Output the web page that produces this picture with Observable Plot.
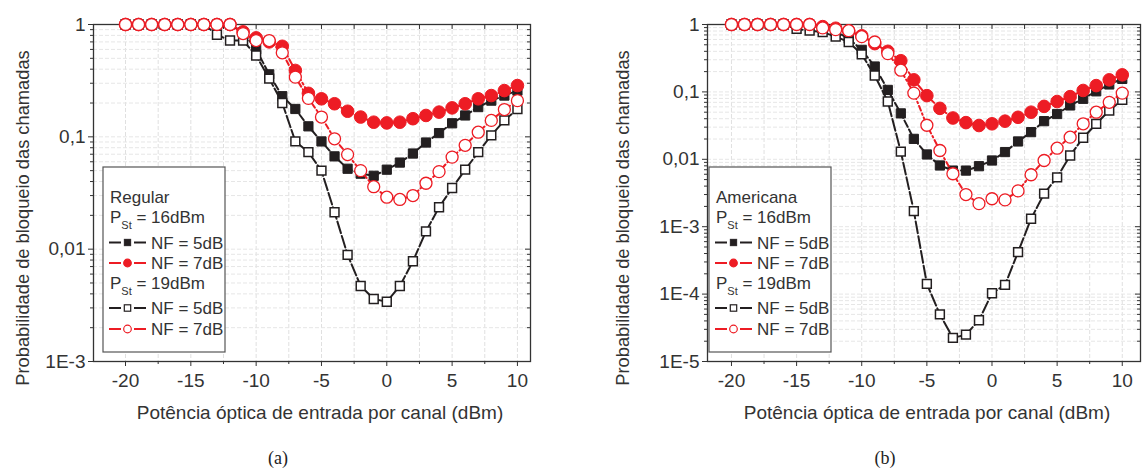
<!DOCTYPE html>
<html><head><meta charset="utf-8">
<script src="https://cdn.jsdelivr.net/npm/d3@7"></script>
<script src="https://cdn.jsdelivr.net/npm/@observablehq/plot@0.6"></script>
<style>
html,body{margin:0;padding:0;background:#fff;}
#wrap{position:relative;width:1145px;height:470px;overflow:hidden;font-family:"Liberation Sans",Arial,sans-serif;}
#pa,#pb{position:absolute;top:0;}
#pa{left:0px;} #pb{left:600px;}
#overlay{position:absolute;left:0;top:0;}
</style></head><body>
<div id="wrap"><div id="pa"></div><div id="pb"></div><svg id="overlay" width="1145" height="470"></svg></div>
<script>
// ---------- data ----------
const power = [-20,-19,-18,-17,-16,-15,-14,-13,-12,-11,-10,-9,-8,-7,-6,-5,-4,-3,-2,-1,0,1,2,3,4,5,6,7,8,9,10];

// (a) Regular
const regular_16_nf5 = [1,1,1,1,1,1,1,1,1,0.85,0.60,0.36,0.23,0.177,0.124,0.091,0.067,0.052,0.047,0.045,0.051,0.059,0.071,0.089,0.108,0.132,0.155,0.184,0.21,0.233,0.258];
const regular_16_nf7 = [1,1,1,1,1,1,1,1,1,0.86,0.76,0.70,0.64,0.39,0.244,0.218,0.197,0.169,0.150,0.135,0.133,0.135,0.145,0.155,0.166,0.181,0.197,0.218,0.233,0.258,0.286];
const regular_19_nf5 = [1,1,1,1,1,1,1,0.81,0.72,0.72,0.53,0.33,0.20,0.091,0.073,0.050,0.0213,0.0089,0.0047,0.0036,0.0034,0.0047,0.0078,0.0144,0.0236,0.035,0.051,0.073,0.103,0.14,0.177];
const regular_19_nf7 = [1,1,1,1,1,1,1,1,1,0.83,0.72,0.72,0.56,0.34,0.22,0.15,0.096,0.0695,0.050,0.036,0.029,0.0277,0.030,0.0386,0.049,0.066,0.084,0.11,0.14,0.175,0.21];

// (b) Americana
const americana_16_nf5 = [1,1,1,1,1,1,1,0.88,0.78,0.62,0.42,0.238,0.107,0.048,0.0201,0.0118,0.0081,0.0068,0.0068,0.0079,0.0096,0.0128,0.0184,0.0253,0.0368,0.047,0.063,0.079,0.102,0.129,0.156];
const americana_16_nf7 = [1,1,1,1,1,1,1,0.93,0.88,0.80,0.68,0.52,0.40,0.29,0.151,0.088,0.057,0.041,0.035,0.0317,0.0336,0.0368,0.042,0.050,0.061,0.072,0.085,0.105,0.124,0.151,0.179];
const americana_19_nf5 = [1,1,1,1,1,0.86,0.81,0.77,0.66,0.55,0.36,0.175,0.072,0.013,0.0017,1.42e-4,5e-5,2.24e-5,2.5e-5,4.1e-5,1.03e-4,1.37e-4,4.2e-4,1.31e-3,3.1e-3,5.4e-3,0.0114,0.0209,0.0336,0.053,0.076];
const americana_19_nf7 = [1,1,1,1,1,1,1,0.89,0.84,0.81,0.66,0.55,0.37,0.21,0.096,0.032,0.0135,0.0061,0.0030,0.0022,0.0026,0.0025,0.0034,0.0059,0.0096,0.0146,0.0213,0.0336,0.050,0.070,0.096];

// ticks and labels
const xTicks = [-20,-15,-10,-5,0,5,10];
const xTickLabels = ["-20","-15","-10","-5","0","5","10"];
const xMinorTicks = [-22.5,-17.5,-12.5,-7.5,-2.5,2.5,7.5];
const yTicksA = [1e-3,1e-2,1e-1,1];
const yTickLabelsA = ["1E-3","0,01","0,1","1"];
const yTicksB = [1e-5,1e-4,1e-3,1e-2,1e-1,1];
const yTickLabelsB = ["1E-5","1E-4","1E-3","0,01","0,1","1"];

const xTitle = "Potência óptica de entrada por canal (dBm)";
const yTitle = "Probabilidade de bloqueio das chamadas";
const legendA = "Regular";
const legendB = "Americana";
const pstLabels = ["16dBm","19dBm"];
const nfLabels = ["NF = 5dB","NF = 7dB"];

// ---------- styles ----------
const RED = "#ed1c24", BLACK = "#231f20", AX = "#333";
const seriesStyle = [
  {key:"16_5", symbol:"square", r:5.2, fill:BLACK, stroke:BLACK, sw:1, line:BLACK, dash:"7,3"},
  {key:"16_7", symbol:"circle", r:6.3, fill:RED, stroke:RED, sw:1, line:RED, dash:"8,3,2,3"},
  {key:"19_5", symbol:"square", r:5.0, fill:"#fff", stroke:BLACK, sw:1.5, line:BLACK, dash:"12,3"},
  {key:"19_7", symbol:"circle", r:6.0, fill:"#fff", stroke:RED, sw:1.3, line:RED, dash:"5,3,1.5,3"}
];

function minorLog(lo, hi) {
  const out = [];
  for (let e = lo; e < hi; e++) for (let m = 2; m <= 9; m++) out.push(m * Math.pow(10, e));
  return out;
}

function panel(el, {width, marginLeft, marginRight, xDomain, yDomain, yTicks, yTickLabels, data, decades}) {
  const height = 400, marginTop = 24, marginBottom = 39;
  const frameW = width - marginLeft - marginRight, frameH = height - marginTop - marginBottom;
  const yMinor = minorLog(decades[0], decades[1]);
  const xAll = xTicks.concat(xMinorTicks).filter(v => v >= xDomain[0] && v <= xDomain[1]);
  const marks = [
    Plot.gridX(xAll, {stroke: "#e0e0e0", strokeOpacity: 1, strokeDasharray: "4,2"}),
    Plot.gridY(yTicks.concat(yMinor), {stroke: "#e6e6e6", strokeOpacity: 1, strokeDasharray: "4,2"}),
    Plot.frame({stroke: AX, strokeWidth: 1.3}),
    Plot.axisX({ticks: xTicks, tickSize: 5, tickPadding: 7, tickFormat: d => xTickLabels[xTicks.indexOf(d)], label: null, stroke: AX}),
    Plot.ruleX(xMinorTicks.filter(v => v >= xDomain[0]), {x: d => d, insetTop: frameH, insetBottom: -3, stroke: AX}),
    Plot.ruleX(xAll, {x: d => d, insetBottom: frameH - 5, stroke: AX}),
    Plot.axisY({ticks: yTicks, tickSize: 5, tickPadding: 3, tickFormat: d => yTickLabels[yTicks.indexOf(d)], label: null, stroke: AX}),
    Plot.ruleY(yMinor, {y: d => d, insetLeft: -3, insetRight: frameW, stroke: AX}),
    Plot.ruleY(yTicks, {y: d => d, insetLeft: frameW - 5, stroke: AX}),
    Plot.ruleY(yMinor, {y: d => d, insetLeft: frameW - 3, stroke: AX})
  ];
  seriesStyle.forEach((s, i) => {
    const rows = power.map((p, j) => ({x: p, y: data[i][j]}));
    marks.push(Plot.line(rows, {x: "x", y: "y", stroke: s.line, strokeWidth: 2, strokeDasharray: s.dash}));
    marks.push(Plot.dot(rows, {x: "x", y: "y", symbol: s.symbol, r: s.r, fill: s.fill, stroke: s.stroke, strokeWidth: s.sw}));
  });
  const svg = Plot.plot({
    width, height, marginLeft, marginRight, marginTop, marginBottom,
    x: {domain: xDomain},
    y: {type: "log", domain: yDomain},
    style: {background: "transparent", fontSize: "19px", fontFamily: "'Liberation Sans', Arial, sans-serif", color: "#333", overflow: "visible"},
    marks
  });
  document.getElementById(el).appendChild(svg);
}

panel("pa", {width: 560, marginLeft: 93, marginRight: 30, xDomain: [-22.45, 11.0], yDomain: [1e-3, 1], yTicks: yTicksA, yTickLabels: yTickLabelsA, decades: [-3, 0],
  data: [regular_16_nf5, regular_16_nf7, regular_19_nf5, regular_19_nf7]});
panel("pb", {width: 545, marginLeft: 107, marginRight: 5, xDomain: [-21.84, 11.4], yDomain: [1e-5, 1], yTicks: yTicksB, yTickLabels: yTickLabelsB, decades: [-5, 0],
  data: [americana_16_nf5, americana_16_nf7, americana_19_nf5, americana_19_nf7]});

// ---------- overlay: titles, captions, legends ----------
const ov = d3.select("#overlay");
const font = "'Liberation Sans', Arial, sans-serif";
function yT(x, y) {
  ov.append("text").attr("transform", `translate(${x},${y}) rotate(-90)`).attr("text-anchor", "middle")
    .attr("dominant-baseline", "central").attr("font-family", font).attr("font-size", 18.3).attr("fill", "#333").text(yTitle);
}
function xT(x, y) {
  ov.append("text").attr("x", x).attr("y", y).attr("text-anchor", "middle").attr("dominant-baseline", "central")
    .attr("font-family", font).attr("font-size", 19).attr("fill", "#333").text(xTitle);
}
function cap(x, y, t) {
  ov.append("text").attr("x", x).attr("y", y).attr("text-anchor", "middle").attr("dominant-baseline", "central")
    .attr("font-family", "'Liberation Serif', 'DejaVu Serif', serif").attr("font-size", 18).attr("fill", "#222").text(t);
}
yT(22, 218); yT(622, 218);
xT(320, 412); xT(927, 412);
cap(278, 458, "(a)"); cap(885, 458, "(b)");

function legend(x0, title) {
  const g = ov.append("g").attr("font-family", font).attr("font-size", 17).attr("fill", "#333");
  g.append("rect").attr("x", x0).attr("y", 167).attr("width", 122).attr("height", 185)
    .attr("fill", "#fff").attr("stroke", "#555").attr("stroke-width", 1.2);
  const tx = x0 + 7;
  const base = c => c + 6;
  g.append("text").attr("x", tx).attr("y", base(197)).text(title);
  const pst = (cy, v) => {
    const t = g.append("text").attr("x", tx).attr("y", base(cy));
    t.append("tspan").text("P");
    t.append("tspan").attr("font-size", 11).attr("dy", 6).text("St");
    t.append("tspan").attr("dy", -6).text(" = " + v);
  };
  const entry = (cy, s, label) => {
    g.append("line").attr("x1", tx - 1).attr("x2", tx + 11).attr("y1", cy).attr("y2", cy).attr("stroke", s.line).attr("stroke-width", 2);
    g.append("line").attr("x1", tx + 24).attr("x2", tx + 36).attr("y1", cy).attr("y2", cy).attr("stroke", s.line).attr("stroke-width", 2);
    const mx = tx + 17.5;
    if (s.symbol === "square") {
      const h = s.fill === "#fff" ? 3.2 : 3.4;
      g.append("rect").attr("x", mx - h).attr("y", cy - h).attr("width", 2 * h).attr("height", 2 * h)
        .attr("fill", s.fill).attr("stroke", s.stroke).attr("stroke-width", s.fill === "#fff" ? 1.2 : 0.5);
    } else {
      g.append("circle").attr("cx", mx).attr("cy", cy).attr("r", 3.8)
        .attr("fill", s.fill).attr("stroke", s.stroke).attr("stroke-width", 1.2);
    }
    g.append("text").attr("x", tx + 41).attr("y", base(cy)).text(label);
  };
  pst(217, pstLabels[0]);
  entry(242.5, seriesStyle[0], nfLabels[0]);
  entry(263, seriesStyle[1], nfLabels[1]);
  pst(283, pstLabels[1]);
  entry(308, seriesStyle[2], nfLabels[0]);
  entry(329, seriesStyle[3], nfLabels[1]);
}
legend(103, legendA);
legend(709, legendB);
</script>
</body></html>
